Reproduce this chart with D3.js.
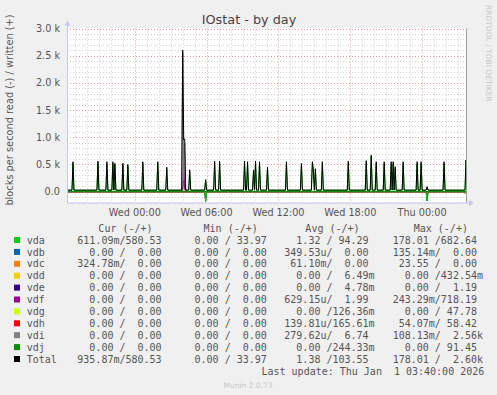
<!DOCTYPE html>
<html>
<head>
<meta charset="utf-8">
<script src="https://cdn.jsdelivr.net/npm/d3@7"></script>
<style>
  body { margin: 0; background: #f0f0f0; }
  text { white-space: pre; }
</style>
</head>
<body>
<div id="chart"></div>
<script>
const parseTime = d3.timeParse("%Y-%m-%d %H:%M");

const startTime = "2025-12-30 18:20";
const endTime = "2026-01-01 03:40";

// written (+) spikes, 5 minute samples
const spikeTimes = [
  "2025-12-30 18:50", "2025-12-30 20:55", "2025-12-30 21:40", "2025-12-30 22:10",
  "2025-12-30 22:20", "2025-12-30 23:00", "2025-12-30 23:25", "2025-12-31 00:40",
  "2025-12-31 01:55", "2025-12-31 02:40", "2025-12-31 04:00", "2025-12-31 04:05",
  "2025-12-31 04:10", "2025-12-31 04:35", "2025-12-31 05:55", "2025-12-31 06:40",
  "2025-12-31 07:05", "2025-12-31 09:10", "2025-12-31 09:25", "2025-12-31 09:55",
  "2025-12-31 10:05", "2025-12-31 10:25", "2025-12-31 11:05", "2025-12-31 12:40",
  "2025-12-31 13:55", "2025-12-31 14:50", "2025-12-31 14:55", "2025-12-31 15:05",
  "2025-12-31 15:40", "2025-12-31 17:50", "2025-12-31 19:20", "2025-12-31 19:45",
  "2025-12-31 20:10", "2025-12-31 20:50", "2025-12-31 21:25", "2025-12-31 21:35",
  "2025-12-31 21:45", "2025-12-31 22:25", "2025-12-31 23:35", "2025-12-31 23:55",
  "2026-01-01 00:25", "2026-01-01 01:50", "2026-01-01 03:40"
];
const totalWrite = [
  550, 560, 550, 550, 520, 520, 500, 550, 550, 450, 2600, 950,
  970, 400, 220, 560, 560, 560, 550, 400, 560, 550, 450, 550,
  520, 550, 400, 420, 550, 560, 570, 670, 550, 550, 550, 550,
  460, 550, 550, 550, 90, 550, 580
];
const vdaWrite = [
  510, 520, 505, 510, 480, 480, 460, 510, 510, 410, 40, 210,
  50, 360, 190, 520, 520, 520, 510, 360, 520, 510, 410, 510,
  480, 510, 360, 380, 510, 520, 530, 650, 510, 510, 510, 510,
  420, 510, 510, 510, 60, 510, 580
];
const totalWriteBase = 28;
const vdaWriteBase = 24;

const vdiTimes = ["2025-12-31 04:00", "2025-12-31 04:05", "2025-12-31 04:10"];
const vdiWrite = [2540, 230, 900];
const vdfTimes = ["2025-12-31 04:05", "2025-12-31 04:10"];
const vdfWrite = [700, 40];

// read (-) spikes
const readTimes = [
  "2025-12-30 22:05", "2025-12-30 23:40", "2025-12-31 03:55", "2025-12-31 05:55",
  "2025-12-31 22:20", "2025-12-31 23:50", "2026-01-01 00:25", "2026-01-01 03:35"
];
const vdaRead = [25, 15, 20, 178, 20, 15, 170, 30];

// legend
const disks = ["vda", "vdb", "vdc", "vdd", "vde", "vdf", "vdg", "vdh", "vdi", "vdj", "Total"];
const colors = ["#00cc00", "#0066b3", "#ff8000", "#ffcc00", "#330099", "#990099",
  "#ccff00", "#ff0000", "#808080", "#008f00", "#000000"];
const curCol = ["611.09m/580.53", "  0.00 /  0.00", "324.78m/  0.00", "  0.00 /  0.00",
  "  0.00 /  0.00", "  0.00 /  0.00", "  0.00 /  0.00", "  0.00 /  0.00",
  "  0.00 /  0.00", "  0.00 /  0.00", "935.87m/580.53"];
const minCol = ["  0.00 / 33.97", "  0.00 /  0.00", "  0.00 /  0.00", "  0.00 /  0.00",
  "  0.00 /  0.00", "  0.00 /  0.00", "  0.00 /  0.00", "  0.00 /  0.00",
  "  0.00 /  0.00", "  0.00 /  0.00", "  0.00 / 33.97"];
const avgCol = ["  1.32 / 94.29", "349.53u/  0.00", " 61.10m/  0.00", "  0.00 /  6.49m",
  "  0.00 /  4.78m", "629.15u/  1.99", "  0.00 /126.36m", "139.81u/165.61m",
  "279.62u/  6.74", "  0.00 /244.33m", "  1.38 /103.55"];
const maxCol = ["178.01 /682.64", "135.14m/  0.00", " 23.55 /  0.00", "  0.00 /432.54m",
  "  0.00 /  1.19", "243.29m/718.19", "  0.00 / 47.78", " 54.07m/ 58.42",
  "108.13m/  2.56k", "  0.00 / 91.45", "178.01 /  2.60k"];

const yTicks = [0, 500, 1000, 1500, 2000, 2500, 3000];

let width = 497, height = 395;
let plot = { left: 67, right: 466, top: 28.5, bottom: 202.5 };

let svg = d3.select('#chart')
  .append('svg')
  .attr('width', width)
  .attr('height', height);

svg.append('rect')
  .attr('width', width)
  .attr('height', height)
  .attr('fill', '#f0f0f0');

let x0 = parseTime(startTime), x1 = parseTime(endTime);

let xscale = d3.scaleTime()
  .domain([x0, x1])
  .range([plot.left, plot.right]);

let yscale = d3.scaleLinear()
  .domain([-200, 3000])
  .range([plot.bottom, plot.top]);

svg.append('rect')
  .attr('x', plot.left)
  .attr('y', plot.top)
  .attr('width', plot.right - plot.left)
  .attr('height', plot.bottom - plot.top)
  .attr('fill', '#ffffff');

// grid
let grid = svg.append('g');
let hours = d3.timeHour.range(x0, x1);
grid.selectAll('.vminor')
  .data(hours)
  .join('line')
  .attr('x1', d => Math.round(xscale(d)) + 0.5)
  .attr('x2', d => Math.round(xscale(d)) + 0.5)
  .attr('y1', plot.top)
  .attr('y2', plot.bottom)
  .attr('stroke', d => d.getHours() % 6 == 0 ? '#e09a9a' : '#cfcfcf')
  .attr('stroke-dasharray', '1,2');

grid.selectAll('.hminor')
  .data(d3.range(-200, 3001, 100))
  .join('line')
  .attr('x1', plot.left)
  .attr('x2', plot.right)
  .attr('y1', d => Math.round(yscale(d)) + 0.5)
  .attr('y2', d => Math.round(yscale(d)) + 0.5)
  .attr('stroke', d => d % 500 == 0 ? '#e09a9a' : '#cfcfcf')
  .attr('stroke-dasharray', '1,2');

// series
function buildSeries(times, values, base) {
  let pts = new Map();
  let put = (t, v) => {
    let k = +t;
    if (!pts.has(k) || pts.get(k) < v) pts.set(k, v);
  };
  put(x0, base);
  put(x1, base);
  times.forEach((s, i) => {
    let t = parseTime(s);
    put(d3.timeMinute.offset(t, -5), base);
    put(t, values[i]);
    put(d3.timeMinute.offset(t, 5), base);
  });
  return Array.from(pts, ([k, v]) => ({ t: new Date(k), v: v }))
    .sort((a, b) => a.t - b.t);
}

svg.append('clipPath')
  .attr('id', 'clip')
  .append('rect')
  .attr('x', plot.left)
  .attr('y', 0)
  .attr('width', plot.right - plot.left)
  .attr('height', plot.bottom);

const line = d3.line()
  .x(d => xscale(d.t))
  .y(d => yscale(d.v));

let lines = svg.append('g').attr('clip-path', 'url(#clip)');

function drawLine(data, color) {
  lines.append('path')
    .datum(data)
    .attr('fill', 'none')
    .attr('stroke', color)
    .attr('stroke-width', 1)
    .attr('d', line);
}

// reads, mirrored below zero
let totalReadData = buildSeries(readTimes, vdaRead, 0).map(d => ({ t: d.t, v: -d.v }));
drawLine(totalReadData, colors[10]);
disks.slice(0, 10).forEach((name, i) => {
  let data = name == 'vda'
    ? buildSeries(readTimes, vdaRead, 0).map(d => ({ t: d.t, v: -d.v }))
    : buildSeries([], [], 0);
  drawLine(data, colors[i]);
});

// writes
disks.slice(0, 10).forEach((name, i) => {
  let data;
  if (name == 'vda') data = buildSeries(spikeTimes, vdaWrite, vdaWriteBase);
  else if (name == 'vdi') data = buildSeries(vdiTimes, vdiWrite, 0);
  else if (name == 'vdf') data = buildSeries(vdfTimes, vdfWrite, 0);
  else data = buildSeries([], [], 0);
  drawLine(data, colors[i]);
});
drawLine(buildSeries(spikeTimes, totalWrite, totalWriteBase), colors[10]);

// axes
svg.append('line')
  .attr('x1', plot.left + 0.5).attr('x2', plot.left + 0.5)
  .attr('y1', plot.bottom).attr('y2', plot.top - 5)
  .attr('stroke', '#c4c8ee');
svg.append('path')
  .attr('d', `M${plot.left - 2.5},${plot.top - 3} L${plot.left + 0.5},${plot.top - 8} L${plot.left + 3.5},${plot.top - 3} Z`)
  .attr('fill', '#c4c8ee');
svg.append('line')
  .attr('x1', plot.left).attr('x2', plot.right + 5)
  .attr('y1', plot.bottom + 0.5).attr('y2', plot.bottom + 0.5)
  .attr('stroke', '#c4c8ee');
svg.append('path')
  .attr('d', `M${plot.right + 3},${plot.bottom - 2.5} L${plot.right + 8},${plot.bottom + 0.5} L${plot.right + 3},${plot.bottom + 3.5} Z`)
  .attr('fill', '#c4c8ee');
svg.append('line')
  .attr('x1', plot.right + 0.5).attr('x2', plot.right + 0.5)
  .attr('y1', plot.top).attr('y2', plot.bottom)
  .attr('stroke', '#999999');

svg.selectAll('.ytick')
  .data(yTicks)
  .join('text')
  .attr('x', 60)
  .attr('y', d => yscale(d) + 3.5)
  .attr('text-anchor', 'end')
  .attr('font-size', '9.7px')
  .attr('fill', '#555')
  .text(d => d == 0 ? '0.0' : d3.format('.1f')(d / 1000) + ' k');

let majorTimes = hours.filter(d => d.getHours() % 6 == 0);
svg.selectAll('.xtick')
  .data(majorTimes)
  .join('text')
  .attr('x', d => xscale(d))
  .attr('y', 216)
  .attr('text-anchor', 'middle')
  .attr('font-size', '9.7px')
  .attr('fill', '#555')
  .text(d => d3.timeFormat('%a %H:%M')(d));

svg.append('text')
  .attr('x', 249)
  .attr('y', 24)
  .attr('text-anchor', 'middle')
  .attr('font-size', '12.8px')
  .attr('fill', '#444')
  .text('IOstat - by day');

svg.append('text')
  .attr('x', -110)
  .attr('y', 13)
  .attr('transform', 'rotate(-90)')
  .attr('text-anchor', 'middle')
  .attr('font-size', '9.8px')
  .attr('fill', '#555')
  .text('blocks per second read (-) / written (+)');

svg.append('text')
  .attr('x', 5)
  .attr('y', -485.5)
  .attr('transform', 'rotate(90)')
  .attr('text-anchor', 'start')
  .attr('font-size', '7.5px')
  .attr('fill', '#c8c8c8')
  .text('RRDTOOL / TOBI OETIKER');

// legend
let legend = svg.append('g')
  .attr('font-family', 'DejaVu Sans Mono')
  .attr('font-size', '10px')
  .attr('fill', '#555');

let colX = [77.3, 182.5, 284.3, 392.7];
let headers = ['   Cur (-/+)', '   Min (-/+)', '   Avg (-/+)', '   Max (-/+)'];
headers.forEach((h, i) => {
  legend.append('text').attr('x', colX[i] + 3).attr('y', 231.5).text(h);
});

disks.forEach((name, i) => {
  let y = 240 + i * 11.9;
  legend.append('rect')
    .attr('x', 14).attr('y', y - 3)
    .attr('width', 6).attr('height', 6)
    .attr('fill', colors[i]);
  legend.append('text').attr('x', 26.7).attr('y', y + 3.6).text(name);
  [curCol, minCol, avgCol, maxCol].forEach((col, j) => {
    legend.append('text').attr('x', colX[j]).attr('y', y + 3.6).text(col[i]);
  });
});

legend.append('text')
  .attr('x', 261.5)
  .attr('y', 240 + 11 * 11.9 + 3.6)
  .text('Last update: Thu Jan  1 03:40:00 2026');

svg.append('text')
  .attr('x', 248)
  .attr('y', 387.5)
  .attr('text-anchor', 'middle')
  .attr('font-size', '7.5px')
  .attr('fill', '#c8c8c8')
  .text('Munin 2.0.73');

svg.selectAll('text')
  .filter(function() { return !this.closest('g') || this.parentNode.getAttribute('font-family') == null; })
  .style('font-family', 'DejaVu Sans');
</script>
</body>
</html>
